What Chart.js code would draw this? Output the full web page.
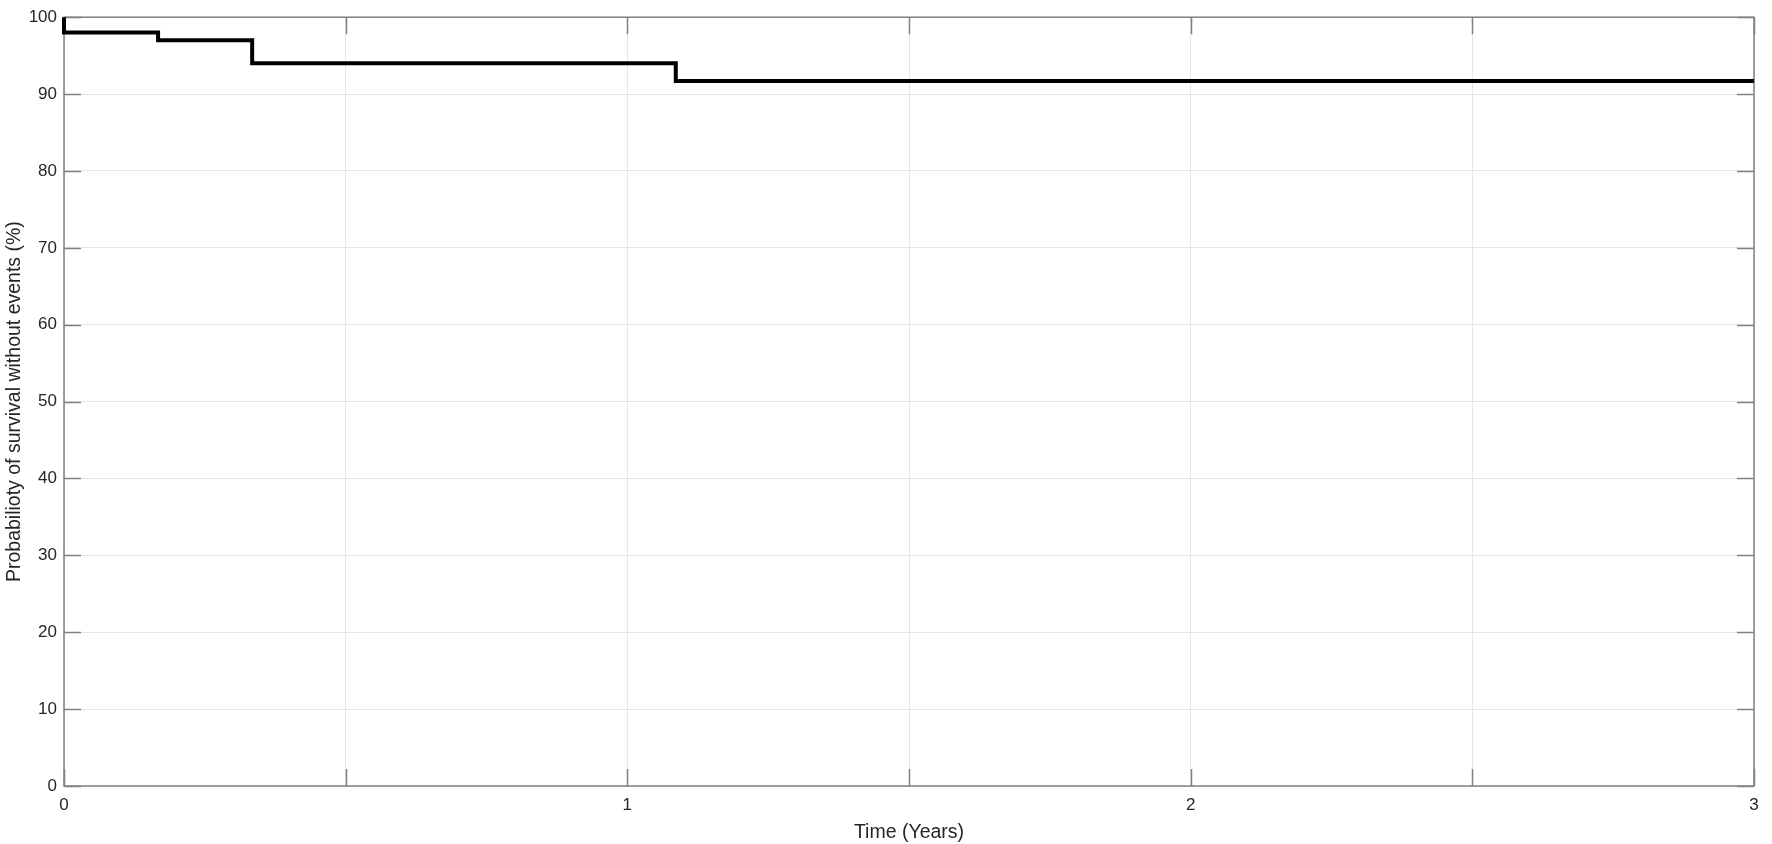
<!DOCTYPE html>
<html>
<head>
<meta charset="utf-8">
<title>Survival without events</title>
<script src="https://cdn.jsdelivr.net/npm/chart.js@4"></script>
<style>
    html, body { margin: 0; padding: 0; background: #fff; }
    #wrap { width: 1772px; height: 844px; position: relative; }
</style>
</head>
<body>
<div id="wrap"><canvas id="km-chart"></canvas></div>
<script>
// step curve (time in years, survival in %)
const stepTimes = [0, 0, 0.167, 0.334, 1.086, 3];
const survival = [100, 98, 97, 94, 91.7, 91.7];
const xTickValues = [0, 0.5, 1, 1.5, 2, 2.5, 3];
const xLabelled = [0, 1, 2, 3];
const yTickValues = [0, 10, 20, 30, 40, 50, 60, 70, 80, 90, 100];

const axisColor = '#808080';
const textColor = '#262626';
const fontFamily = '"Liberation Sans", Arial, sans-serif';
const tickLen = 17;

// MATLAB style: box around the plot, ticks pointing inward on all four sides
// drawn under the curve so the drop at t=0 stays visible
const boxTicks = {
    id: 'boxTicks',
    beforeDatasetsDraw(chart) {
        const { ctx, chartArea: a, scales: { x, y } } = chart;
        ctx.save();
        ctx.strokeStyle = axisColor;
        ctx.lineWidth = 1.5;
        ctx.beginPath();
        xTickValues.forEach(v => {
            const px = Math.round(x.getPixelForValue(v)) + 0.5;
            ctx.moveTo(px, a.bottom); ctx.lineTo(px, a.bottom - tickLen);
            ctx.moveTo(px, a.top); ctx.lineTo(px, a.top + tickLen);
        });
        yTickValues.forEach(v => {
            const py = Math.round(y.getPixelForValue(v)) + 0.5;
            ctx.moveTo(a.left, py); ctx.lineTo(a.left + tickLen, py);
            ctx.moveTo(a.right, py); ctx.lineTo(a.right - tickLen, py);
        });
        ctx.stroke();
        ctx.strokeRect(a.left, a.top, a.right - a.left, a.bottom - a.top);
        ctx.restore();
    }
};

const ctx = document.getElementById('km-chart').getContext('2d');
new Chart(ctx, {
    type: 'scatter',
    data: {
        datasets: [{
            data: stepTimes.map((t, i) => ({ x: t, y: survival[i] })),
            showLine: true,
            stepped: 'before',
            borderColor: '#000',
            borderWidth: 4,
            pointRadius: 0,
            fill: false,
            clip: 4
        }]
    },
    options: {
        responsive: true,
        maintainAspectRatio: false,
        animation: false,
        events: [],
        layout: { padding: { top: 14, right: 18, left: 0, bottom: 0 } },
        plugins: { legend: { display: false }, tooltip: { enabled: false } },
        scales: {
            x: {
                type: 'linear',
                min: 0, max: 3,
                afterFit: s => { s.height = 58; },
                afterBuildTicks: s => { s.ticks = xTickValues.map(v => ({ value: v })); },
                grid: { color: '#e6e6e6', lineWidth: 1, drawTicks: false },
                border: { display: false },
                ticks: {
                    color: textColor,
                    font: { family: fontFamily, size: 17 },
                    padding: 9,
                    maxRotation: 0,
                    autoSkip: false,
                    callback: v => xLabelled.includes(v) ? String(v) : ''
                },
                title: {
                    display: true,
                    text: 'Time (Years)',
                    color: textColor,
                    font: { family: fontFamily, size: 19.5 },
                    padding: { top: 4, bottom: 0 }
                }
            },
            y: {
                type: 'linear',
                min: 0, max: 100,
                afterFit: s => { s.width = 64; },
                afterBuildTicks: s => { s.ticks = yTickValues.map(v => ({ value: v })); },
                grid: { color: '#e6e6e6', lineWidth: 1, drawTicks: false },
                border: { display: false },
                ticks: {
                    color: textColor,
                    font: { family: fontFamily, size: 17 },
                    padding: 7,
                    autoSkip: false
                },
                title: {
                    display: true,
                    text: 'Probabilioty of survival without events (%)',
                    color: textColor,
                    font: { family: fontFamily, size: 19.5 },
                    padding: { top: 3, bottom: 0 }
                }
            }
        }
    },
    plugins: [boxTicks]
});
</script>
</body>
</html>
